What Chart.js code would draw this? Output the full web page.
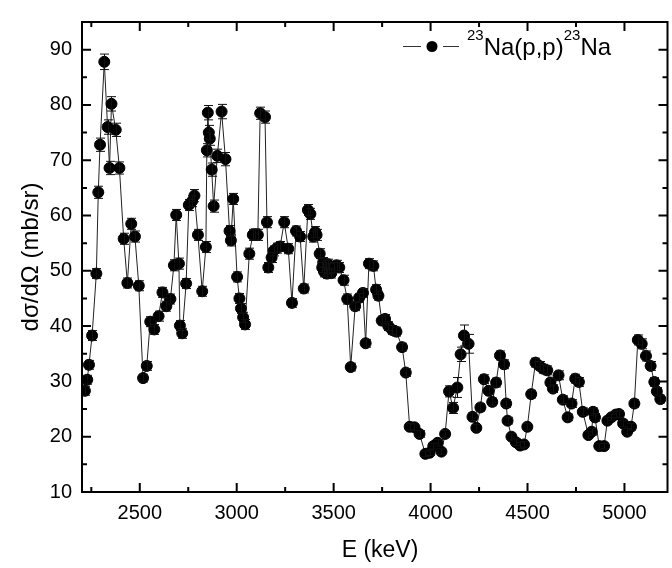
<!DOCTYPE html>
<html>
<head>
<meta charset="utf-8">
<script src="https://cdn.jsdelivr.net/npm/chart.js@4.4.0/dist/chart.umd.min.js"></script>
<style>
    html, body { margin: 0; padding: 0; background: #fff; overflow: hidden; }
    #wrap { position: relative; width: 674px; height: 568px; }
</style>
</head>
<body>
<div id="wrap"><canvas id="chart"></canvas></div>
<script>
// proton energy (keV)
var energies = [
    2217, 2229, 2238, 2254, 2276, 2286, 2295, 2317, 2334, 2344,
    2354, 2376, 2395, 2417, 2436, 2456, 2475, 2495, 2517, 2536,
    2554, 2575, 2597, 2617, 2637, 2658, 2676, 2688, 2702, 2707,
    2719, 2739, 2753, 2770, 2782, 2800, 2822, 2841, 2846, 2851,
    2856, 2861, 2871, 2881, 2900, 2922, 2942, 2963, 2970, 2982,
    3002, 3014, 3022, 3033, 3043, 3065, 3083, 3096, 3109, 3121,
    3146, 3156, 3163, 3180, 3190, 3207, 3224, 3245, 3266, 3285,
    3306, 3327, 3346, 3367, 3380, 3395, 3405, 3412, 3428, 3441,
    3446, 3451, 3456, 3461, 3466, 3471, 3478, 3488, 3500, 3515,
    3529, 3551, 3570, 3588, 3611, 3631, 3651, 3665, 3682, 3705,
    3719, 3731, 3748, 3765, 3782, 3802, 3824, 3853, 3872, 3892,
    3917, 3943, 3973, 3995, 4014, 4036, 4056, 4075, 4095, 4116,
    4138, 4155, 4172, 4196, 4216, 4236, 4257, 4275, 4299, 4318,
    4338, 4358, 4379, 4390, 4397, 4417, 4440, 4462, 4482, 4499,
    4519, 4541, 4562, 4580, 4602, 4618, 4631, 4660, 4682, 4707,
    4727, 4746, 4765, 4785, 4814, 4831, 4838, 4848, 4870, 4895,
    4912, 4932, 4955, 4972, 4993, 5014, 5034, 5051, 5069, 5089,
    5111, 5135, 5154, 5167, 5185
];
// d sigma / d Omega (mb/sr)
var xsec = [
    28.3, 30.3, 33.0, 38.3, 49.5, 64.2, 72.8, 87.8, 76.0, 68.6,
    80.2, 75.5, 68.6, 55.8, 47.8, 58.5, 56.2, 47.3, 30.6, 32.8,
    40.8, 39.4, 41.8, 46.1, 43.6, 44.9, 51.0, 60.1, 51.3, 40.1,
    38.7, 47.7, 61.9, 62.6, 63.6, 56.5, 46.3, 54.3, 71.8, 78.6,
    75.0, 73.9, 68.3, 61.7, 70.8, 78.8, 70.2, 57.2, 55.5, 63.0,
    48.9, 45.0, 43.2, 41.6, 40.3, 53.1, 56.5, 56.6, 56.5, 78.5,
    77.8, 58.8, 50.6, 52.4, 53.6, 54.1, 54.4, 58.8, 54.0, 44.2,
    57.2, 56.2, 46.8, 61.0, 60.3, 56.2, 57.0, 56.5, 53.1, 50.6,
    51.5, 49.8, 51.0, 50.2, 49.5, 51.2, 50.4, 49.6, 50.6, 51.0,
    50.6, 48.3, 44.9, 32.6, 43.6, 45.1, 46.0, 36.9, 51.3, 50.9,
    46.6, 45.5, 41.0, 41.3, 40.0, 39.3, 39.0, 36.2, 31.6, 21.8,
    21.7, 20.5, 16.9, 17.1, 18.3, 18.9, 17.3, 20.5, 28.2, 25.2,
    28.9, 34.9, 38.3, 36.8, 23.6, 21.6, 25.3, 30.4, 28.3, 26.3,
    29.8, 34.7, 33.1, 26.0, 22.9, 20.0, 19.0, 18.4, 18.6, 21.8,
    27.7, 33.4, 32.8, 32.3, 32.0, 29.8, 28.7, 31.1, 26.7, 23.5,
    26.0, 30.5, 29.9, 24.5, 20.3, 20.9, 24.5, 23.5, 18.3, 18.3,
    22.9, 23.5, 24.0, 24.1, 22.4, 20.9, 21.8, 26.0, 37.5, 36.8,
    34.6, 32.8, 29.9, 28.2, 26.8
];
// error bars (mb/sr)
var xsecErr = [
    0.8, 0.8, 0.8, 0.9, 0.9, 1.1, 1.2, 1.4, 1.3, 1.2,
    1.3, 1.2, 1.1, 1.0, 0.9, 1.0, 1.0, 0.9, 0.7, 0.8,
    0.9, 0.9, 0.9, 0.9, 0.9, 0.9, 1.0, 1.0, 1.0, 0.9,
    0.9, 0.9, 1.0, 1.0, 1.1, 1.0, 0.9, 1.0, 1.2, 1.3,
    1.3, 1.2, 1.2, 1.1, 1.2, 1.3, 1.2, 1.0, 1.0, 1.0,
    0.9, 0.9, 0.9, 0.9, 0.9, 1.0, 1.0, 1.0, 1.0, 1.1,
    1.1, 1.0, 0.9, 0.9, 0.9, 0.9, 0.9, 1.0, 0.9, 0.8,
    0.9, 0.9, 0.8, 1.0, 1.0, 1.0, 1.0, 1.0, 0.9, 0.9,
    0.9, 0.9, 0.9, 0.9, 0.9, 0.9, 0.9, 0.9, 0.9, 0.9,
    0.9, 0.9, 0.9, 0.7, 0.8, 0.8, 0.8, 0.7, 0.9, 0.9,
    0.9, 0.8, 0.8, 0.8, 0.8, 0.8, 0.8, 0.7, 0.7, 0.6,
    0.6, 0.6, 0.5, 0.5, 0.5, 0.6, 0.5, 0.6, 1.0, 1.0,
    1.8, 1.3, 1.9, 1.7, 0.7, 0.6, 0.7, 0.8, 0.7, 0.7,
    0.8, 0.8, 0.8, 0.7, 0.6, 0.6, 0.6, 0.5, 0.5, 0.6,
    0.7, 0.8, 0.8, 0.8, 0.8, 0.7, 0.7, 0.8, 0.7, 0.6,
    0.7, 0.8, 0.8, 0.7, 0.6, 0.6, 0.7, 0.7, 0.5, 0.5,
    0.6, 0.6, 0.6, 0.6, 0.6, 0.6, 0.6, 0.7, 0.9, 0.9,
    0.9, 0.8, 0.8, 0.7, 0.7
];
var xTicks = [2500, 3000, 3500, 4000, 4500, 5000];
var xMinor = [2250, 2750, 3250, 3750, 4250, 4750];
var yTicks = [10, 20, 30, 40, 50, 60, 70, 80, 90];
var yMinor = [15, 25, 35, 45, 55, 65, 75, 85];

var FONT = '"Liberation Sans", Arial, sans-serif';

// frame, inward ticks, error bars, titles and legend (Origin style)
var originStyle = {
    id: 'originStyle',
    afterDatasetsDraw: function (chart) {
        var ctx = chart.ctx, xs = chart.scales.x, ys = chart.scales.y, a = chart.chartArea;
        ctx.save();
        ctx.beginPath();
        ctx.rect(a.left, a.top, a.right - a.left, a.bottom - a.top);
        ctx.clip();
        ctx.strokeStyle = '#111';
        ctx.lineWidth = 1;
        energies.forEach(function (e, i) {
            var px = Math.round(xs.getPixelForValue(e)) + 0.5;
            var hi = ys.getPixelForValue(xsec[i] + xsecErr[i]);
            var lo = ys.getPixelForValue(xsec[i] - xsecErr[i]);
            ctx.beginPath();
            ctx.moveTo(px, hi); ctx.lineTo(px, lo);
            ctx.moveTo(px - 4.5, hi); ctx.lineTo(px + 4.5, hi);
            ctx.moveTo(px - 4.5, lo); ctx.lineTo(px + 4.5, lo);
            ctx.stroke();
        });
        ctx.restore();
    },
    afterDraw: function (chart) {
        var ctx = chart.ctx, xs = chart.scales.x, ys = chart.scales.y, a = chart.chartArea;
        ctx.save();
        ctx.strokeStyle = '#000';
        ctx.lineWidth = 2;
        ctx.strokeRect(a.left, a.top, a.right - a.left, a.bottom - a.top);

        function xTick(v, len) {
            var px = xs.getPixelForValue(v);
            ctx.beginPath();
            ctx.moveTo(px, a.bottom); ctx.lineTo(px, a.bottom - len);
            ctx.moveTo(px, a.top); ctx.lineTo(px, a.top + len);
            ctx.stroke();
        }
        function yTick(v, len) {
            var py = ys.getPixelForValue(v);
            ctx.beginPath();
            ctx.moveTo(a.left, py); ctx.lineTo(a.left + len, py);
            ctx.moveTo(a.right, py); ctx.lineTo(a.right - len, py);
            ctx.stroke();
        }
        xTicks.forEach(function (v) { xTick(v, 9); });
        xMinor.forEach(function (v) { xTick(v, 5); });
        yTicks.forEach(function (v) { yTick(v, 9); });
        yMinor.forEach(function (v) { yTick(v, 5); });

        // axis titles
        ctx.fillStyle = '#000';
        ctx.textAlign = 'center';
        ctx.textBaseline = 'middle';
        ctx.font = '23px ' + FONT;
        ctx.fillText('E (keV)', 380, 551);
        ctx.save();
        ctx.translate(31, (a.top + a.bottom) / 2);
        ctx.rotate(-Math.PI / 2);
        ctx.font = '24px ' + FONT;
        ctx.fillText('d\u03c3/d\u03a9 (mb/sr)', 0, 0);
        ctx.restore();

        // legend
        var ly = 46.5;
        ctx.strokeStyle = '#333';
        ctx.lineWidth = 1;
        ctx.beginPath();
        ctx.moveTo(403, ly); ctx.lineTo(421, ly);
        ctx.moveTo(443, ly); ctx.lineTo(459, ly);
        ctx.stroke();
        ctx.beginPath();
        ctx.arc(432, ly, 5.5, 0, Math.PI * 2);
        ctx.fillStyle = '#000';
        ctx.fill();
        ctx.textAlign = 'left';
        ctx.textBaseline = 'alphabetic';
        var x = 467;
        function part(txt, size, base) {
            ctx.font = size + 'px ' + FONT;
            ctx.fillText(txt, x, base);
            x += ctx.measureText(txt).width;
        }
        part('23', 15, 40);
        part('Na(p,p)', 24, 55);
        part('23', 15, 40);
        part('Na', 24, 55);
        ctx.restore();
    }
};

var ctx = document.getElementById('chart').getContext('2d');
var chart = new Chart(ctx, {
    type: 'scatter',
    data: {
        datasets: [{
            label: '23Na(p,p)23Na',
            data: energies.map(function (e, i) { return { x: e, y: xsec[i] }; }),
            showLine: true,
            borderColor: '#222',
            borderWidth: 1,
            pointRadius: 5.5,
            pointBorderWidth: 1,
            pointBackgroundColor: '#000',
            pointBorderColor: '#000',
            clip: 0
        }]
    },
    options: {
        responsive: true,
        maintainAspectRatio: false,
        animation: false,
        layout: { padding: { top: 6, right: 0, left: 0, bottom: 0 } },
        plugins: {
            legend: { display: false },
            tooltip: { enabled: false }
        },
        scales: {
            x: {
                type: 'linear',
                min: 2202,
                max: 5222,
                grid: { display: false, drawTicks: false },
                border: { display: false },
                afterBuildTicks: function (scale) {
                    scale.ticks = xTicks.map(function (v) { return { value: v }; });
                },
                afterFit: function (scale) { scale.height = 76; },
                ticks: {
                    padding: 9,
                    color: '#000',
                    font: { family: FONT, size: 20 },
                    maxRotation: 0,
                    callback: function (v) { return String(v); }
                }
            },
            y: {
                type: 'linear',
                min: 10,
                max: 95,
                grid: { display: false, drawTicks: false },
                border: { display: false },
                afterBuildTicks: function (scale) {
                    scale.ticks = yTicks.map(function (v) { return { value: v }; });
                },
                afterFit: function (scale) { scale.width = 82; },
                ticks: {
                    padding: 10,
                    color: '#000',
                    font: { family: FONT, size: 20 },
                    callback: function (v) { return String(v); }
                }
            }
        }
    },
    plugins: [originStyle]
});
</script>
</body>
</html>
